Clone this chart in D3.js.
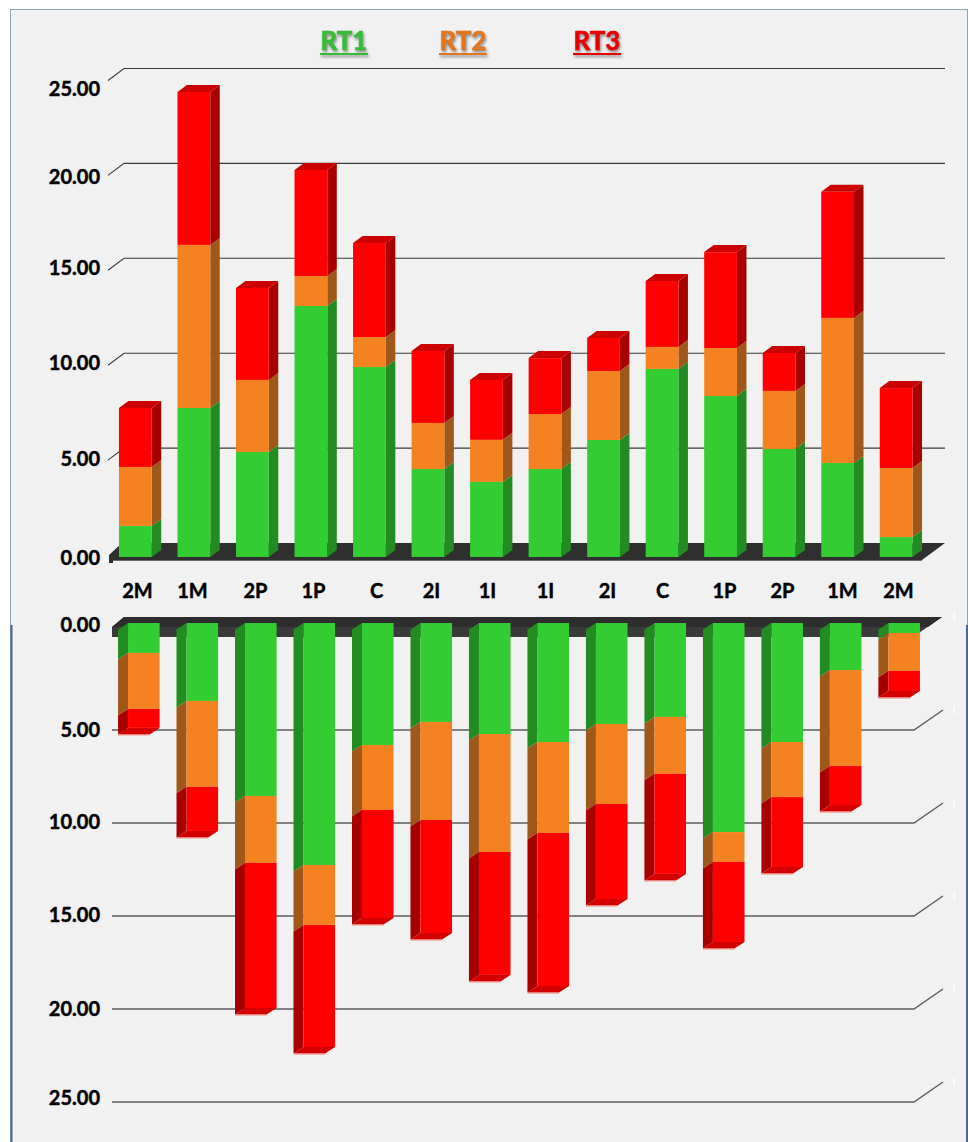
<!DOCTYPE html>
<html><head><meta charset="utf-8">
<script src="https://cdn.jsdelivr.net/npm/d3@7"></script>
<style>
html,body{margin:0;padding:0;background:#fff}
svg{display:block}
text{font-family:Lato,"Open Sans",sans-serif;font-weight:700}
</style></head><body>
<svg id="c" width="968" height="1142"></svg>
<script>
const categories=["2M","1M","2P","1P","C","2I","1I","1I","2I","C","1P","2P","1M","2M"];
const seriesNames=["RT1","RT2","RT3"];
const upperRT1=[1.64,7.86,5.54,13.24,10.02,4.64,3.96,4.64,6.17,9.92,8.49,5.70,4.96,1.05];
const upperRT2=[3.11,8.60,3.80,1.58,1.58,2.43,2.22,2.90,3.64,1.16,2.53,3.06,7.65,3.64];
const upperRT3=[3.11,8.07,4.85,5.59,4.96,3.80,3.16,2.95,1.74,3.48,5.06,2.00,6.65,4.22];
const lowerRT1=[1.61,4.19,9.30,13.01,6.56,5.32,5.97,6.40,5.43,5.05,11.24,6.40,2.53,0.54];
const lowerRT2=[3.01,4.62,3.60,3.23,3.49,5.27,6.34,4.89,4.30,3.06,1.61,2.96,5.16,2.04];
const lowerRT3=[1.02,2.37,7.80,6.56,5.81,6.08,6.61,8.23,5.11,5.38,4.30,3.76,2.10,1.08];
const tickValues=[0,5,10,15,20,25];

const front={RT1:"#33cc33",RT2:"#f58220",RT3:"#ff0000"};
const side={RT1:"#228b22",RT2:"#a0581a",RT3:"#a80000"};
const legendFill={RT1:"#35bd35",RT2:"#e2761f",RT3:"#e80000"};
const capFill="#cc0000";
const dyU=7,dxU=9.5,dxL=10,dyL=6.5;

const svg=d3.select("#c");
const line=d3.line();
const poly=(g,pts,fill)=>g.append("path").attr("d",line(pts)+"Z").attr("fill",fill);

// panel
svg.append("rect").attr("x",10.5).attr("y",9.5).attr("width",957).attr("height",1140)
  .attr("fill","#f1f1f1").attr("stroke","#8fa3b3").attr("stroke-width",1);
svg.append("path").attr("d","M11.5,625V1142M967,625V1142").attr("stroke","#4a6790").attr("stroke-width",2).attr("fill","none");

const indices=categories.map((_,i)=>i);
const xUp=d3.scaleBand().domain(indices).range([105.5,926]).paddingInner(0.44).paddingOuter(0.23);
const xLow=d3.scaleBand().domain(indices).range([114,934]).paddingInner(0.46).paddingOuter(0.24);
// bar scales: measured from the bar's own front baseline
const yUp=d3.scaleLinear().domain([0,25]).range([557,83]);
const yLow=d3.scaleLinear().domain([0,25]).range([623,1088]);
// gridline scales
const gUp=d3.scaleLinear().domain([0,25]).range([543,68.5]);
const gLow=d3.scaleLinear().domain([0,25]).range([637,1102]);
// label scales follow the picture's uneven label placement
const lUp=d3.scaleLinear().domain(tickValues).range([558,459,363,268,177,89]);
const lLow=d3.scaleLinear().domain(tickValues).range([625,730,822,915,1009,1098]);

// upper gridlines
const gridU=svg.append("g").attr("fill","none").attr("stroke","#3a3a3a").attr("stroke-width",1.1);
tickValues.filter(t=>t>0).forEach(t=>{
  const y=gUp(t);
  gridU.append("path").attr("d",line([[108,y+12],[124,y],[945,y]]));
});
// upper floor
const floorU=svg.append("g");
poly(floorU,[[109,563],[109,555],[122,543],[945,543],[922,560],[113,560],[113,563]],"#2f2f2f");
floorU.append("path").attr("d",line([[113,560.5],[922,560.5]])).attr("stroke","#6a6a6a").attr("stroke-width",1);

// lower gridlines
const gridL=svg.append("g").attr("fill","none").attr("stroke","#5c5c5c").attr("stroke-width",1.5);
tickValues.filter(t=>t>0).forEach(t=>{
  const y=gLow(t);
  gridL.append("path").attr("d",line([[112,y],[914,y],[943,y-20]]));
});
// faint cropped marks at the right of the lower plot
const marks=svg.append("g").attr("fill","none").attr("stroke","#ffffff").attr("stroke-width",1.3);
tickValues.forEach(t=>{
  const y=gLow(t)-20;
  marks.append("path").attr("d",`M955,${y-4}Q952,${y} 955,${y+4}`);
});
// lower floor
const floorL=svg.append("g");
poly(floorL,[[112,637],[112,627],[124,617],[942,617],[913,637]],"#3a3a3a");
poly(floorL,[[124,617],[942,617],[928,627],[112,627]],"#2d2d2d");

// upper bars
const upper=indices.map(i=>({i,segs:[["RT1",upperRT1[i]],["RT2",upperRT2[i]],["RT3",upperRT3[i]]]}));
const gU=svg.append("g");
upper.forEach(d=>{
  const x0=xUp(d.i),x1=x0+xUp.bandwidth();
  let c=0;
  d.segs.forEach(([n,v])=>{
    const yb=yUp(c),yt=yUp(c+v);c+=v;
    poly(gU,[[x1,yb],[x1,yt],[x1+dxU,yt-dyU],[x1+dxU,yb-dyU]],side[n]);
    gU.append("rect").attr("x",x0).attr("y",yt).attr("width",x1-x0).attr("height",yb-yt).attr("fill",front[n]);
  });
  const yt=yUp(c);
  gU.append("path").attr("d",line([[x0,yt],[x0+dxU,yt-dyU],[x1+dxU,yt-dyU],[x1,yt]])+"Z").attr("fill",capFill);
});

// lower bars
const lower=indices.map(i=>({i,segs:[["RT1",lowerRT1[i]],["RT2",lowerRT2[i]],["RT3",lowerRT3[i]]]}));
const gL=svg.append("g");
lower.forEach(d=>{
  const x0=xLow(d.i),x1=x0+xLow.bandwidth();
  let c=0;
  d.segs.forEach(([n,v])=>{
    const yt=yLow(c),yb=yLow(c+v);c+=v;
    poly(gL,[[x0,yt],[x0,yb],[x0-dxL,yb+dyL],[x0-dxL,yt+dyL]],side[n]);
    gL.append("rect").attr("x",x0).attr("y",yt).attr("width",x1-x0).attr("height",yb-yt).attr("fill",front[n]);
  });
  const yb=yLow(c);
  poly(gL,[[x0,yb],[x1,yb],[x1-dxL,yb+dyL],[x0-dxL,yb+dyL]],"#d40000");
  gL.append("path").attr("d",line([[x0-dxL,yb+dyL+.5],[x1-dxL,yb+dyL+.5]])).attr("stroke","#f08a80").attr("stroke-width",1);
});

// axes (real d3 axes, lines hidden)
const fmt=d3.format(".2f");
const labelStyle=s=>s.attr("font-size",20).attr("fill","#000").attr("stroke","#000").attr("stroke-width",.45)
  .style("font-family","Lato,sans-serif").style("font-weight",700);
function yAxis(scale){
  const a=d3.axisLeft(scale).tickValues(tickValues).tickFormat(fmt).tickSize(0).tickPadding(0);
  const g=svg.append("g").attr("transform","translate(100,0)").call(a);
  g.select(".domain").remove();
  g.selectAll("text").call(labelStyle);
}
yAxis(lUp);yAxis(lLow);

const xLab=d3.scaleOrdinal().domain(indices).range([137,192,255,313,376,431,487,545,607,662,724,782,842,898]);
const xa=d3.axisBottom(xLab).tickFormat(i=>categories[i]).tickSize(0).tickPadding(0);
const xg=svg.append("g").attr("transform","translate(0,584)").call(xa);
xg.select(".domain").remove();
xg.selectAll("text").call(labelStyle);

// legend
const legendX=d3.scaleOrdinal().domain(seriesNames).range([344,463,597]);
const leg=svg.append("g").selectAll("g").data(seriesNames).join("g")
  .attr("transform",d=>`translate(${legendX(d)},0)`)
  .style("filter","drop-shadow(1px 2px 1.5px rgba(0,0,0,.45))");
leg.append("text").attr("y",49.5).attr("text-anchor","middle")
  .attr("font-size",26).attr("fill",d=>legendFill[d]).attr("stroke",d=>legendFill[d]).attr("stroke-width",.6)
  .text(d=>d);
leg.append("line").attr("x1",-24).attr("x2",24).attr("y1",54).attr("y2",54)
  .attr("stroke",d=>legendFill[d]).attr("stroke-width",2.2);
</script>
</body></html>
